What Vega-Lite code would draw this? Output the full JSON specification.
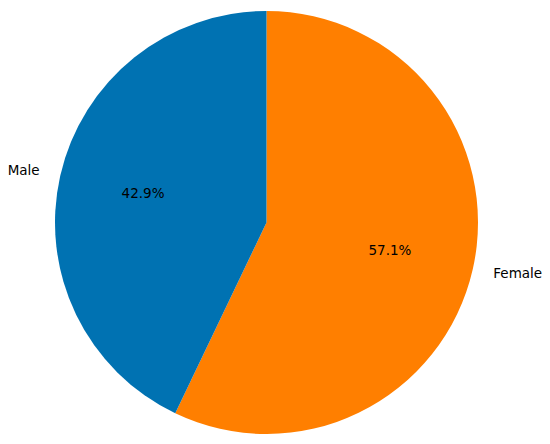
{
  "$schema": "https://vega.github.io/schema/vega-lite/v6.json",
  "autosize": {"type": "fit", "contains": "padding"},
  "width": 550,
  "height": 444,
  "padding": {"left": 0, "right": 16, "top": 1, "bottom": 0},
  "background": "white",
  "config": {"view": {"stroke": null}},
  "data": {
    "values": [
      {"gender": "Female", "value": 57.1, "label": "57.1%"},
      {"gender": "Male", "value": 42.9, "label": "42.9%"}
    ]
  },
  "transform": [
    {"stack": "value", "groupby": [], "as": ["start", "end"], "sort": [{"field": "gender", "order": "ascending"}]},
    {"calculate": "(datum.start + datum.end) / 2", "as": "mid"}
  ],
  "layer": [
    {
      "mark": {"type": "arc", "outerRadius": 211.5},
      "encoding": {
        "theta": {"field": "start", "type": "quantitative", "scale": {"domain": [0, 100]}},
        "theta2": {"field": "end"},
        "color": {"field": "gender", "type": "nominal", "scale": {"domain": ["Female", "Male"], "range": ["#FF7F00", "#0072B2"]}, "legend": null}
      }
    },
    {
      "mark": {"type": "text", "radius": 126.6, "fontSize": 13.5, "font": "DejaVu Sans", "align": "center", "baseline": "middle", "color": "#000000"},
      "encoding": {
        "theta": {"field": "mid", "type": "quantitative", "scale": {"domain": [0, 100]}},
        "text": {"field": "label"}
      }
    },
    {
      "transform": [{"filter": "datum.gender == 'Male'"}],
      "mark": {"type": "text", "radius": 232.6, "fontSize": 13.5, "font": "DejaVu Sans", "align": "right", "baseline": "middle", "color": "#000000"},
      "encoding": {
        "theta": {"field": "mid", "type": "quantitative", "scale": {"domain": [0, 100]}},
        "text": {"field": "gender"}
      }
    },
    {
      "transform": [{"filter": "datum.gender == 'Female'"}],
      "mark": {"type": "text", "radius": 232.6, "fontSize": 13.5, "font": "DejaVu Sans", "align": "left", "baseline": "middle", "color": "#000000"},
      "encoding": {
        "theta": {"field": "mid", "type": "quantitative", "scale": {"domain": [0, 100]}},
        "text": {"field": "gender"}
      }
    }
  ]
}
